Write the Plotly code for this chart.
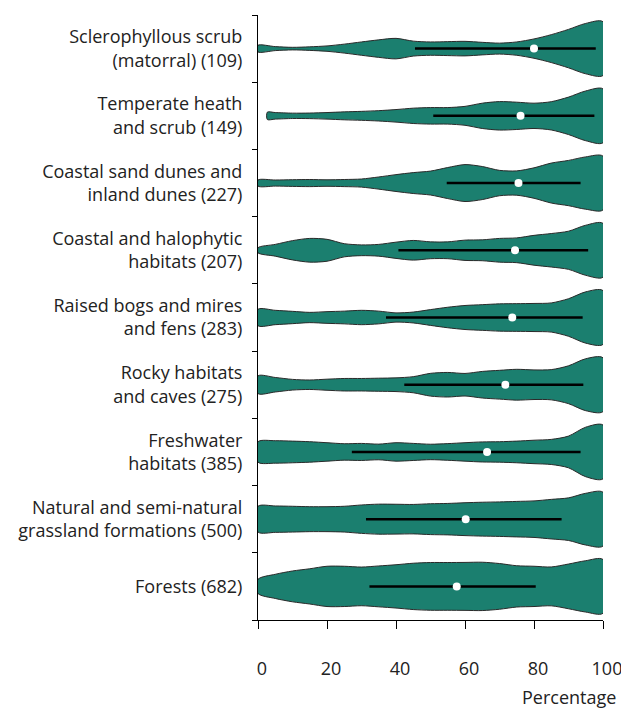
import plotly.graph_objects as go


# Categorías, de arriba hacia abajo.
HABITATS = [
    "Sclerophyllous scrub<br>(matorral) (109)",
    "Temperate heath<br>and scrub (149)",
    "Coastal sand dunes and<br>inland dunes (227)",
    "Coastal and halophytic<br>habitats (207)",
    "Raised bogs and mires<br>and fens (283)",
    "Rocky habitats<br>and caves (275)",
    "Freshwater<br>habitats (385)",
    "Natural and semi-natural<br>grassland formations (500)",
    "Forests (682)",
]

# Rejilla de porcentajes donde se leyó la densidad.
PORCENTAJES = [0, 5, 10, 15, 20, 25, 30, 35, 40, 45, 50, 55, 60, 65, 70, 75, 80, 85, 90, 95, 100]

# Valor mínimo de cada distribución (donde empieza el violín).
MINIMOS = [0, 2.7, 0, 0, 0, 0, 0, 0, 0]

# Densidad relativa en cada punto de la rejilla.
DENSIDADES = [
    [3.3, 2.0, 1.3, 1.8, 2.7, 4.5, 6.7, 8.8, 10.3, 7.5, 6.7, 7.0, 7.3, 6.3, 5.5, 6.7, 9.7, 14.0, 19.3, 25.3, 27.0],
    [3.7, 3.3, 2.7, 2.8, 3.3, 4.0, 4.5, 5.2, 6.3, 7.7, 8.3, 8.3, 9.5, 12.7, 14.3, 13.7, 12.7, 14.2, 18.8, 25.0, 27.0],
    [3.0, 3.0, 3.3, 3.5, 3.2, 3.5, 4.0, 6.0, 8.3, 10.3, 11.8, 15.3, 18.2, 16.3, 12.5, 12.0, 15.0, 19.7, 22.3, 25.8, 26.5],
    [2.5, 5.8, 9.5, 11.7, 10.8, 6.5, 5.3, 5.8, 8.0, 9.7, 8.3, 8.3, 10.0, 10.3, 11.7, 12.2, 14.7, 16.5, 18.8, 24.7, 26.5],
    [8.0, 7.0, 6.0, 5.0, 5.7, 6.2, 7.0, 6.2, 4.5, 5.3, 7.7, 10.0, 11.7, 12.5, 13.3, 13.5, 13.7, 14.2, 18.3, 25.0, 26.2],
    [8.8, 7.2, 5.3, 4.7, 5.5, 6.2, 6.2, 6.5, 6.8, 8.0, 11.3, 12.2, 11.2, 13.2, 14.3, 15.3, 14.7, 15.0, 18.8, 25.8, 26.7],
    [10.2, 11.2, 10.8, 10.2, 9.2, 8.2, 8.5, 7.8, 9.2, 8.5, 7.7, 8.3, 9.2, 10.0, 10.2, 10.8, 11.7, 12.5, 15.8, 24.7, 26.8],
    [12.7, 13.0, 12.7, 12.3, 12.3, 12.7, 14.0, 14.8, 14.7, 14.5, 15.2, 15.5, 16.2, 16.7, 17.0, 17.5, 18.0, 19.5, 21.0, 25.5, 26.5],
    [7.0, 12.0, 15.3, 17.5, 20.0, 20.0, 19.2, 20.3, 21.5, 23.0, 23.7, 23.7, 23.8, 24.0, 22.7, 20.5, 20.0, 19.3, 22.2, 25.5, 26.7],
]

# Mediana y extremos de la línea negra.
MEDIANAS = [80.0, 76.1, 75.5, 74.5, 73.7, 71.7, 66.4, 60.2, 57.6]
INFERIORES = [45.5, 50.8, 54.7, 40.7, 37.1, 42.4, 27.2, 31.3, 32.3]
SUPERIORES = [97.9, 97.5, 93.5, 95.7, 94.1, 94.3, 93.5, 88.0, 80.5]

COLOR = "#1b7f6f"
ANCHO = 0.4


def main():
    fig = go.Figure()

    for i, dens in enumerate(DENSIDADES):
        xs = list(PORCENTAJES)
        xs[0] = MINIMOS[i]
        maximo = max(dens)
        w = [d / maximo * ANCHO for d in dens]

        x_poly = xs + xs[::-1] + [xs[0]]
        y_poly = [i - v for v in w] + [i + v for v in w[::-1]] + [i - w[0]]

        fig.add_trace(
            go.Scatter(
                x=x_poly,
                y=y_poly,
                mode="lines",
                fill="toself",
                fillcolor=COLOR,
                line=dict(color="#2a2a2a", width=1, shape="spline", smoothing=0.8),
                hoverinfo="skip",
                showlegend=False,
            )
        )

        fig.add_trace(
            go.Scatter(
                x=[INFERIORES[i], SUPERIORES[i]],
                y=[i, i],
                mode="lines",
                line=dict(color="#000000", width=2.5),
                showlegend=False,
            )
        )

        fig.add_trace(
            go.Scatter(
                x=[MEDIANAS[i]],
                y=[i],
                mode="markers",
                marker=dict(color="#ffffff", size=8),
                showlegend=False,
            )
        )

    fig.update_xaxes(
        range=[0, 100],
        tickvals=[0, 20, 40, 60, 80, 100],
        ticks="outside",
        ticklen=8,
        tickcolor="#000000",
        showline=True,
        linecolor="#000000",
        linewidth=1,
        showgrid=False,
        zeroline=False,
        automargin=False,
        ticklabelstandoff=24,
        ticklabelshift=4,
        ticklabeloverflow="allow",
        tickfont_size=18,
    )

    fig.update_yaxes(
        range=[8.5, -0.5],
        tickvals=list(range(len(HABITATS))),
        ticktext=HABITATS,
        ticks="",
        showline=True,
        linecolor="#000000",
        linewidth=1,
        showgrid=False,
        zeroline=False,
        automargin=False,
        ticklabelstandoff=11,
        minor=dict(
            tickvals=[k - 0.5 for k in range(len(HABITATS) + 1)],
            ticks="outside",
            ticklen=5,
            tickcolor="#000000",
            showgrid=False,
        ),
    )

    # La página añade 8 px de margen; se compensa en el tamaño.
    fig.update_layout(
        width=621,
        height=700,
        margin=dict(l=250, r=26, t=7, b=88),
        plot_bgcolor="#ffffff",
        paper_bgcolor="#ffffff",
        font=dict(family="Open Sans", size=18, color="#222222"),
        showlegend=False,
        annotations=[
            dict(
                x=1,
                y=0,
                xref="paper",
                yref="paper",
                xanchor="right",
                yanchor="top",
                xshift=15,
                yshift=-63,
                text="Percentage",
                showarrow=False,
                font_size=18,
            )
        ],
    )

    fig.write_html("out.html")


if __name__ == "__main__":
    main()
